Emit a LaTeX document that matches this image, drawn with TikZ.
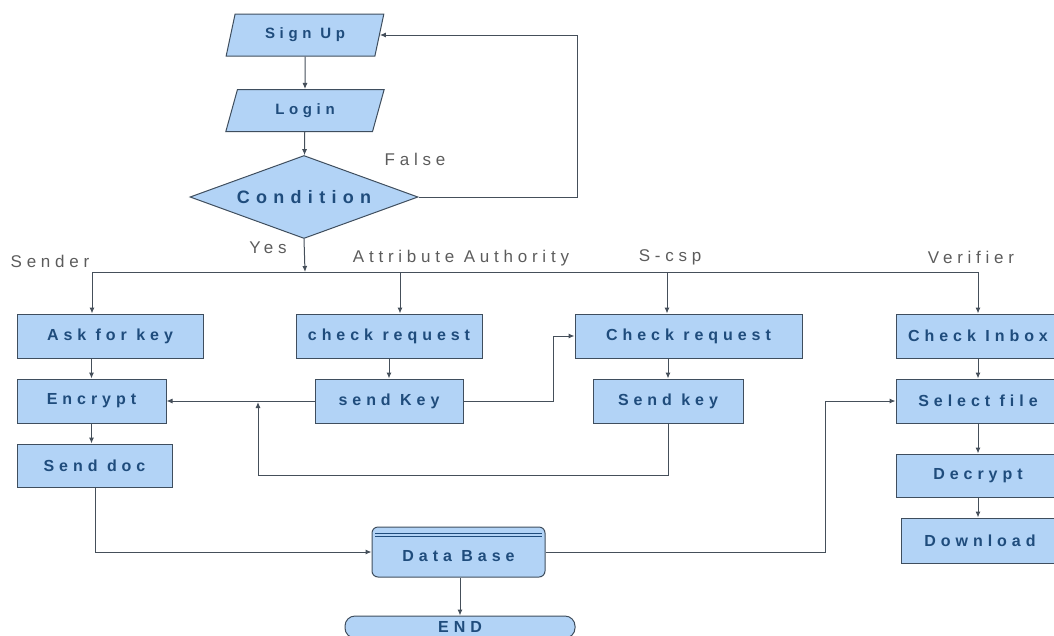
\documentclass[tikz,border=0pt]{standalone}
\usepackage{fontspec}
\setmainfont{Liberation Sans}
\newfontfamily\bxfont[LetterSpace=31]{Liberation Sans}
\newfontfamily\cdfont[LetterSpace=35]{Liberation Sans}
\newfontfamily\lbfont[LetterSpace=28]{Liberation Sans}
\usetikzlibrary{shapes.geometric,arrows.meta}
\definecolor{boxfill}{HTML}{B2D3F6}
\definecolor{boxline}{HTML}{3F4E5E}
\definecolor{boxtext}{HTML}{1F4C7C}
\definecolor{lbl}{HTML}{5C5C5C}
\definecolor{conn}{HTML}{454F5A}
\begin{document}
\begin{tikzpicture}[x=1pt,y=-1pt,
  stepbox/.style={draw=boxline, fill=boxfill, line width=1pt, inner sep=0pt,
    minimum height=44pt, text=boxtext, font=\bxfont\bfseries\fontsize{16}{16}\selectfont},
  iobox/.style={stepbox, trapezium, trapezium left angle=70, trapezium right angle=110,
    trapezium stretches=true, minimum width=159pt, minimum height=42pt,
    font=\bxfont\bfseries\fontsize{15}{15}\selectfont},
  condbox/.style={stepbox, diamond, aspect=2.75, minimum width=228pt, minimum height=83pt,
    font=\cdfont\bfseries\fontsize{18}{18}\selectfont},
  lane/.style={text=lbl, inner sep=0pt, font=\lbfont\fontsize{17}{17}\selectfont},
  conn/.style={draw=conn, line width=1pt},
  arr/.style={conn, -{Latex[length=6pt,width=5pt]}}
]
\useasboundingbox (0,0) rectangle (1054,635);
\clip (0,0) rectangle (1054,635);

% top part
\node[iobox] (signup) at (305,35) {Sign Up};
\node[iobox] (login) at (305,110.5) {Login};
\node[condbox] (cond) at (304,197) {Condition};
\node[lane] (false) at (415,159) {False};
\node[lane] (yes) at (268,248) {Yes};

% lane labels
\node[lane] (sender) at (50,261) {Sender};
\node[lane] (aa) at (461,258) {Attribute Authority};
\node[lane] (scsp) at (670,257) {S-csp};
\node[lane] (verifier) at (971,257) {Verifier};

% Sender
\node[stepbox, minimum width=186pt] (askkey) at (110,336) {Ask for key};
\node[stepbox, minimum width=149pt] (encrypt) at (91.5,401) {Encrypt};
\node[stepbox, minimum width=155pt, minimum height=43pt] (senddoc) at (94.5,465.5) {Send doc};

% Attribute authority
\node[stepbox, minimum width=186pt] (checkreqA) at (389,336) {check request};
\node[stepbox, minimum width=148pt] (sendkeyA) at (389,401) {send Key};

% S-csp
\node[stepbox, minimum width=227pt] (checkreqS) at (688.5,336) {Check request};
\node[stepbox, minimum width=150pt] (sendkeyS) at (668,401) {Send key};

% Verifier
\node[stepbox, minimum width=164pt] (checkinbox) at (978,336) {Check Inbox};
\node[stepbox, minimum width=164pt] (selectfile) at (978,401) {Select file};
\node[stepbox, minimum width=164pt, minimum height=43pt] (decrypt) at (978,475.5) {Decrypt};
\node[stepbox, minimum width=158pt, minimum height=45pt] (download) at (980,540.5) {Download};

% Data base and END
\node[stepbox, rounded corners=6pt, minimum width=173pt, minimum height=50pt,
  text height=19pt, text depth=0pt] (db) at (458.5,552) {Data Base};
\draw[draw=boxtext, line width=0.8pt] (375,533) -- (542,533);
\draw[draw=boxtext, line width=0.8pt] (375,536.5) -- (542,536.5);
\node[stepbox, rounded corners=10pt, minimum width=230pt, minimum height=22pt] (end) at (460,627) {END};

% connectors top
\draw[arr] (signup) -- (login);
\draw[arr] (login) -- (cond);
\coordinate (bus) at (305,272);
\draw[arr] (cond.south) -- (bus);
\coordinate (loopR) at (577,197);
\draw[arr] (cond.east) -- (loopR) |- (signup.east);

% bus
\coordinate (busL) at (92,272);
\coordinate (busA) at (400,272);
\coordinate (busS) at (667,272);
\coordinate (busR) at (978,272);
\draw[conn] (busL) -- (busR);
\draw[arr] (busL) -- (busL |- askkey.north);
\draw[arr] (busA) -- (busA |- checkreqA.north);
\draw[arr] (busS) -- (busS |- checkreqS.north);
\draw[arr] (busR) -- (checkinbox.north);

% sender chain
\draw[arr] (encrypt.north |- askkey.south) -- (encrypt.north);
\draw[arr] (encrypt.south) -- (encrypt.south |- senddoc.north);

% attribute authority chain
\draw[arr] (sendkeyA.north |- checkreqA.south) -- (sendkeyA.north);
\draw[arr] (sendkeyA.west) -- (encrypt.east);
\coordinate (ak1) at (553,401);
\draw[arr] (sendkeyA.east) -- (ak1) |- (checkreqS.west);

% S-csp chain
\draw[arr] (sendkeyS.north |- checkreqS.south) -- (sendkeyS.north);
\coordinate (ret1) at (668,475);
\coordinate (ret2) at (258,475);
\coordinate (ret3) at (258,402);
\draw[arr] (sendkeyS.south) -- (ret1) -- (ret2) -- (ret3);

% verifier chain
\draw[arr] (checkinbox) -- (selectfile);
\draw[arr] (selectfile) -- (decrypt);
\draw[arr] (decrypt.south) -- (decrypt.south |- download.north);

% data base
\coordinate (sd1) at (95,552);
\draw[arr] (senddoc.south -| sd1) -- (sd1) -- (db.west);
\coordinate (db1) at (825,552);
\draw[arr] (db.east) -- (db1) |- (selectfile.west);
\draw[arr] (db.south -| 460,0) -- (end.north -| 460,0);
\end{tikzpicture}
\end{document}
